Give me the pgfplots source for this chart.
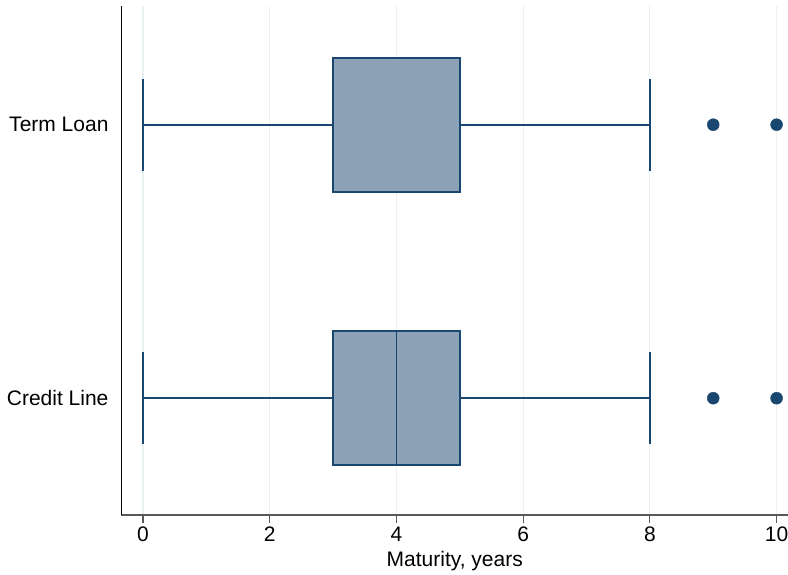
\documentclass[border=0pt]{standalone}
\usepackage{pgfplots}
\pgfplotsset{compat=1.18}
\usepgfplotslibrary{statistics}
\usepackage{fontspec}
\setmainfont{Liberation Sans}
\definecolor{navy}{HTML}{1A476F}
\definecolor{boxfill}{HTML}{8CA3B7}
\definecolor{gridc}{HTML}{EAF1F3}
\begin{document}
\begin{tikzpicture}
\useasboundingbox (-121.5pt,-59pt) rectangle (666.5pt,515pt);
\begin{axis}[
  scale only axis,
  width=666.5pt, height=509pt,
  xmin=-0.34, xmax=10.18,
  ymin=0.573, ymax=2.434,
  axis lines*=left,
  x axis line style={draw=black!65, line width=1.2pt},
  y axis line style={draw=black, line width=1.2pt},
  xtick={0,2,4,6,8,10},
  ytick={1,2},
  yticklabels={Credit Line, Term Loan},
  xtick style={draw=black!65, line width=1.2pt},
  major tick length=7.5pt,
  ytick style={draw=none},
  tick align=outside,
  xmajorgrids,
  grid style={draw=gridc, line width=1.2pt},
  every tick label/.append style={font=\fontsize{21}{25}\selectfont},
  /pgf/number format/assume math mode=true,
  xticklabel style={yshift=-1pt},
  yticklabel style={xshift=-2pt},
  xlabel={Maturity, years},
  xlabel style={font=\fontsize{21}{25}\selectfont, yshift=-3pt},
  boxplot/box extend=0.49,
  boxplot/whisker extend=0.336,
  boxplot/every whisker/.style={line width=1.6pt},
  boxplot/every box/.style={line width=1.8pt},
  boxplot/every median/.style={line width=1.6pt},
  clip=false,
]
\addplot[boxplot prepared={lower whisker=0, lower quartile=3, median=5, upper quartile=5, upper whisker=8, draw position=2},
  draw=navy, fill=boxfill, line width=1.6pt] coordinates {};
\addplot[boxplot prepared={lower whisker=0, lower quartile=3, median=4, upper quartile=5, upper whisker=8, draw position=1},
  draw=navy, fill=boxfill, line width=1.6pt] coordinates {};
\addplot[only marks, mark=*, mark size=6pt, draw=navy, fill=navy] coordinates {(9,2) (10,2) (9,1) (10,1)};
\end{axis}
\end{tikzpicture}
\end{document}
